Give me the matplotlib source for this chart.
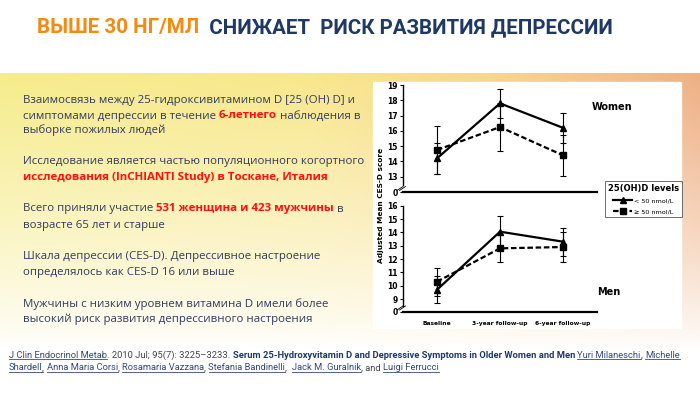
import numpy as np
import matplotlib
matplotlib.use("Agg")
import matplotlib.pyplot as plt
from matplotlib.lines import Line2D
from matplotlib.patches import Rectangle

W, H = 700, 394

# ---- chart data ----
visits = ["Baseline", "3-year follow-up", "6-year follow-up"]
women_low = [14.2, 17.8, 16.2]
women_low_err = [1.0, 0.95, 1.0]
women_high = [14.75, 16.25, 14.4]
women_high_err = [1.55, 1.55, 1.35]
men_low = [9.7, 14.05, 13.3]
men_low_err = [1.0, 1.2, 1.05]
men_high = [10.3, 12.8, 12.9]
men_high_err = [1.05, 1.0, 1.1]
women_ticks = [13, 14, 15, 16, 17, 18, 19]
men_ticks = [9, 10, 11, 12, 13, 14, 15, 16]
legend_title = "25(OH)D levels"
legend_labels = ["< 50 nmol/L", "\u2265 50 nmol/L"]

title_orange = "ВЫШЕ 30 НГ/МЛ"
title_navy = "  СНИЖАЕТ  РИСК РАЗВИТИЯ ДЕПРЕССИИ"

NAVY = "#1F3864"
ORANGE = "#F7890F"
BODY = "#323C5E"
RED = "#FF1010"
LINK = "#34497A"
GREY = "#454545"

body_lines = [
    [("Взаимосвязь между 25-гидроксивитамином D [25 (OH) D] и", "n")],
    [("симптомами депрессии в течение ", "n"), ("6-летнего", "r"), (" наблюдения в", "n")],
    [("выборке пожилых людей", "n")],
    [("Исследование является частью популяционного когортного", "n")],
    [("исследования (InCHIANTI Study) в Тоскане, Италия", "r")],
    [("Всего приняли участие ", "n"), ("531 женщина и 423 мужчины", "r"), (" в", "n")],
    [("возрасте 65 лет и старше", "n")],
    [("Шкала депрессии (CES-D). Депрессивное настроение", "n")],
    [("определялось как CES-D 16 или выше", "n")],
    [("Мужчины с низким уровнем витамина D имели более", "n")],
    [("высокий риск развития депрессивного настроения", "n")],
]
body_y = [103.5, 118.5, 133.5, 164, 180, 211.5, 227.5, 259, 275, 307, 322]

footer_lines = [
    [("J Clin Endocrinol Metab", "l"), (". 2010 Jul; 95(7): 3225\u20133233. ", "g"),
     ("Serum 25-Hydroxyvitamin D and Depressive Symptoms in Older Women and Men", "b"),
     (" ", "g"), ("Yuri Milaneschi", "l"), (", ", "g"), ("Michelle", "l")],
    [("Shardell", "l"), (", ", "g"), ("Anna Maria Corsi", "l"), (", ", "g"),
     ("Rosamaria Vazzana", "l"), (", ", "g"), ("Stefania Bandinelli", "l"), (",  ", "g"),
     ("Jack M. Guralnik", "l"), (", and ", "g"), ("Luigi Ferrucci", "l")],
]
footer_y = [357.5, 370.5]

fig = plt.figure(figsize=(W / 100, H / 100), dpi=100)
renderer = fig.canvas.get_renderer()


def fx(x):
    return x / W


def fy(y):
    return 1 - y / H


# ---- background band ----
bg = fig.add_axes([0, 0, 1, 1], zorder=-10)
bg.set_xlim(0, W)
bg.set_ylim(H, 0)
bg.axis("off")
xs = np.linspace(0, 1, 300)
stops = [0, 0.45, 0.7, 0.85, 1]
cols = np.array([[246, 236, 140], [248, 231, 140], [247, 214, 142],
                 [243, 196, 142], [238, 176, 132]]) / 255
row = np.stack([np.interp(xs, stops, cols[:, k]) for k in range(3)], axis=1)
ys = np.linspace(0, 1, 120)
fade = (1 - ys) ** 0.8
band = 1 - fade[:, None, None] * (1 - row[None, :, :])
bg.imshow(band, extent=(0, W, 350, 73), aspect="auto", interpolation="bilinear")
bg.add_patch(Rectangle((373, 82), 308, 246, color="white", zorder=2))


# ---- text helpers ----
def text_w(s, **kw):
    t = fig.text(0, 0, s + "|", **kw)
    w1 = t.get_window_extent(renderer).width
    t.set_text("|")
    w2 = t.get_window_extent(renderer).width
    t.remove()
    return w1 - w2


def draw_runs(x, y, runs, styles, size):
    for s, key in runs:
        st = dict(styles[key])
        under = st.pop("underline", False)
        fig.text(fx(x), fy(y), s, va="baseline", ha="left", fontsize=size, **st)
        w = text_w(s, fontsize=size, **st)
        if under:
            wi = text_w(s.rstrip(), fontsize=size, **st)
            fig.add_artist(Line2D([fx(x), fx(x + wi)], [fy(y + 1.6), fy(y + 1.6)],
                                  color=st["color"], lw=0.6))
        x += w


def fit_size(runs, styles, target):
    total = 0
    for s, key in runs:
        st = dict(styles[key])
        st.pop("underline", False)
        total += text_w(s, fontsize=10, **st)
    return 10 * target / total


# title
tfam = ["Roboto", "DejaVu Sans"]
title_styles = {
    "o": dict(color=ORANGE, fontweight="bold", family=tfam),
    "n": dict(color=NAVY, fontweight="bold", family=tfam),
}
title_runs = [(title_orange, "o"), (title_navy, "n")]
tsize = fit_size(title_runs, title_styles, 575)
draw_runs(37, 33, title_runs, title_styles, tsize)

# body
bfam = ["Open Sans", "DejaVu Sans"]
body_styles = {
    "n": dict(color=BODY, family=bfam),
    "r": dict(color=RED, fontweight="bold", family=bfam),
}
bsize = fit_size(body_lines[0], body_styles, 330)
for runs, y in zip(body_lines, body_y):
    draw_runs(23, y, runs, body_styles, bsize)

# footer
ffam = ["Roboto", "DejaVu Sans"]
foot_styles = {
    "l": dict(color=LINK, family=ffam, underline=True),
    "g": dict(color=GREY, family=ffam),
    "b": dict(color=NAVY, fontweight="bold", family=ffam),
}
fsize = fit_size(footer_lines[0], foot_styles, 672)
for runs, y in zip(footer_lines, footer_y):
    draw_runs(9, y, runs, foot_styles, fsize)


# ---- chart panels ----
def panel(rect, ymin, ymax, ticks, low, low_err, high, high_err, show_x):
    ax = fig.add_axes(rect, zorder=5)
    ax.patch.set_alpha(0)
    x = np.arange(len(visits))
    ax.errorbar(x, low, yerr=low_err, fmt="none", ecolor="black", elinewidth=0.8,
                capsize=2, capthick=0.8, clip_on=False)
    ax.errorbar(x, high, yerr=high_err, fmt="none", ecolor="black", elinewidth=0.8,
                capsize=2, capthick=0.8, clip_on=False)
    h1, = ax.plot(x, low, "-", marker="^", color="black", lw=1.6, ms=4.5, clip_on=False)
    h2, = ax.plot(x, high, "--", marker="s", color="black", lw=1.6, ms=4.3,
                  dashes=(2.5, 1.2), clip_on=False)
    ax.set_xlim(-0.54, 2.54)
    ax.set_ylim(ymin, ymax)
    ax.spines[["top", "right"]].set_visible(False)
    ax.spines["left"].set_bounds(ymin + 0.45, ticks[-1])
    ax.spines["left"].set_linewidth(1.0)
    ax.spines["bottom"].set_linewidth(1.6)
    ax.set_yticks([ymin] + ticks, ["0"] + [str(t) for t in ticks])
    ax.tick_params(axis="y", length=2.5, width=0.8, labelsize=5.5, pad=1.5)
    for lab in ax.get_yticklabels():
        lab.set_fontweight("bold")
    if show_x:
        ax.set_xticks(x, visits)
        ax.tick_params(axis="x", length=0, labelsize=4.3, pad=6.5)
        for lab in ax.get_xticklabels():
            lab.set_fontweight("bold")
    else:
        ax.tick_params(axis="x", bottom=False, labelbottom=False)
    return ax, h1, h2


ax1, h1, h2 = panel([fx(403), fy(192), 194 / W, (192 - 83.5) / H], 12.0, 19.1,
                    women_ticks, women_low, women_low_err, women_high, women_high_err, False)
ax2, _, _ = panel([fx(403), fy(311.7), 194 / W, (311.7 - 205) / H], 8.05, 16.05,
                  men_ticks, men_low, men_low_err, men_high, men_high_err, True)

# axis break marks
for yb in (189, 308.5):
    for dx in (0, 2.5):
        fig.add_artist(Line2D([fx(397 + dx), fx(403 + dx)], [fy(yb + 1.5), fy(yb - 2.5)],
                              color="black", lw=0.6, zorder=6))

fig.text(fx(381), fy(205), "Adjusted Mean CES-D score", rotation=90, fontsize=5.3,
         fontweight="bold", ha="center", va="center", zorder=6)
fig.text(fx(592), fy(107), "Women", fontsize=7, fontweight="bold", va="center", zorder=6)
fig.text(fx(597), fy(292), "Men", fontsize=7, fontweight="bold", va="center", zorder=6)

leg = fig.legend([h1, h2], legend_labels, title=legend_title, loc="upper left",
                 bbox_to_anchor=(fx(605), fy(181)), fontsize=4.6,
                 title_fontproperties={"weight": "bold", "size": 6}, frameon=True,
                 fancybox=False, edgecolor="#555555", framealpha=1, borderpad=0.45,
                 handlelength=3, labelspacing=0.8, handletextpad=0.3, borderaxespad=0)
leg.get_frame().set_linewidth(0.6)
leg.set_zorder(7)

fig.savefig("out.png", dpi=100)
